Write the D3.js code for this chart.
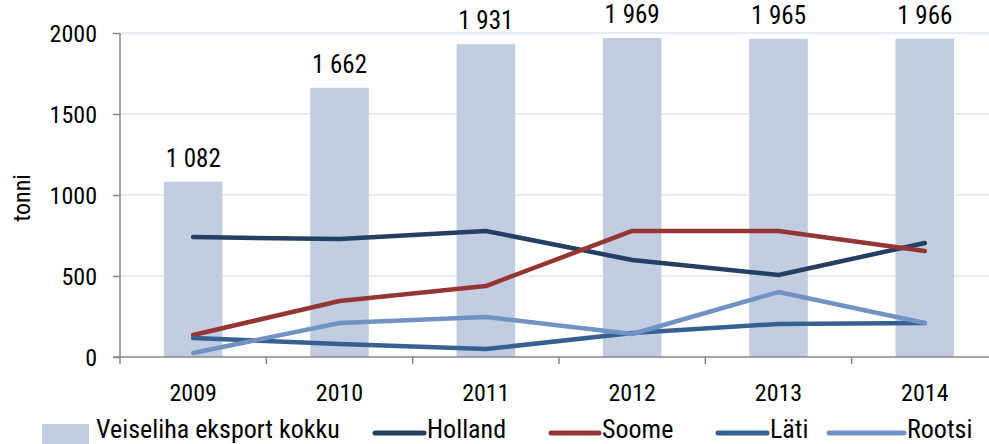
<!DOCTYPE html>
<html><head><meta charset="utf-8">
<script src="https://cdn.jsdelivr.net/npm/d3@7"></script>
<style>
body{margin:0;background:#fff;}
svg text{font-family:"Roboto Condensed","Liberation Sans Narrow","Roboto",sans-serif;fill:#000;}
</style></head><body>
<svg id="c" width="989" height="444"></svg>
<script>
const years = ["2009","2010","2011","2012","2013","2014"];
const total = [1082,1662,1931,1969,1965,1966];
const totalLabels = ["1 082","1 662","1 931","1 969","1 965","1 966"];
const holland = [740,728,778,599,506,704];
const soome = [136,346,438,778,778,654];
const lati = [117,80,49,148,204,210];
const rootsi = [25,210,247,142,401,210];
const yTicks = [0,500,1000,1500,2000];

const svg = d3.select("#c");
const x = d3.scaleBand().domain(years).range([120,998]).paddingInner(0.6).paddingOuter(0.3);
const xc = d3.scalePoint().domain(years).range([120+73.2,998-73.2]);
const y = d3.scaleLinear().domain([0,2000]).range([357,33]);

// grid
svg.append("g").selectAll("line").data(yTicks.filter(d=>d>0)).join("line")
  .attr("x1",120).attr("x2",989).attr("y1",d=>y(d)).attr("y2",d=>y(d))
  .attr("stroke","#dce6f2").attr("stroke-width",1.5);

// bars
svg.append("g").selectAll("rect").data(years).join("rect")
  .attr("x",d=>x(d)).attr("width",x.bandwidth())
  .attr("y",(d,i)=>y(total[i])).attr("height",(d,i)=>y(0)-y(total[i]))
  .attr("fill","#c2cde2");

// bar labels
svg.append("g").selectAll("text").data(years).join("text")
  .attr("x",d=>xc(d)).attr("y",(d,i)=>y(total[i])-15)
  .attr("text-anchor","middle").attr("font-size",25)
  .text((d,i)=>totalLabels[i]);

// axes
const yAxis = d3.axisLeft(y).tickValues(yTicks).tickFormat(d3.format("d")).tickSize(7).tickPadding(16);
const gy = svg.append("g").attr("transform","translate(120,0)").call(yAxis);
gy.select(".domain").attr("stroke","#868686").attr("stroke-width",1.5).attr("d","M0,33V357");
gy.selectAll(".tick line").attr("stroke","#868686").attr("stroke-width",1.5);
gy.selectAll(".tick text").attr("font-size",24).attr("font-family",null).attr("dy","0.36em");

const xAxis = d3.scaleLinear().domain([0,6]).range([120,998]);
const gx = svg.append("g").attr("transform","translate(0,357)");
gx.append("line").attr("x1",113).attr("x2",989).attr("y1",0).attr("y2",0).attr("stroke","#868686").attr("stroke-width",1.5);
gx.selectAll("line.t").data(d3.range(0,7)).join("line").attr("class","t")
  .attr("x1",d=>xAxis(d)).attr("x2",d=>xAxis(d)).attr("y1",0).attr("y2",7)
  .attr("stroke","#868686").attr("stroke-width",1.5);
gx.selectAll("text").data(years).join("text")
  .attr("x",d=>xc(d)).attr("y",44).attr("text-anchor","middle").attr("font-size",24).text(d=>d);

// y title
svg.append("text").attr("transform","translate(30,198) rotate(-90)")
  .attr("text-anchor","middle").attr("font-size",24).text("tonni");

// lines
const series = [
  {name:"Holland",vals:holland,color:"#243f61"},
  {name:"Soome",vals:soome,color:"#963634"},
  {name:"Läti",vals:lati,color:"#376092"},
  {name:"Rootsi",vals:rootsi,color:"#7093c4"}
];
const line = d3.line().x((d,i)=>xc(years[i])).y(d=>y(d));
svg.append("g").selectAll("path").data(series).join("path")
  .attr("d",s=>line(s.vals)).attr("fill","none").attr("stroke",s=>s.color)
  .attr("stroke-width",4.5).attr("stroke-linecap","round").attr("stroke-linejoin","round");

// legend
const lg = svg.append("g");
lg.append("rect").attr("x",42).attr("y",424).attr("width",47).attr("height",20).attr("fill","#c2cde2");
lg.append("text").attr("x",96).attr("y",438).attr("font-size",26).text("Veiseliha eksport kokku");
const lpos = [372,548,715,826];
const lend = [425,600,768,905];
series.forEach((s,i)=>{
  lg.append("line").attr("x1",lpos[i]+3).attr("x2",lend[i]-1).attr("y1",433).attr("y2",433)
    .attr("stroke",s.color).attr("stroke-width",5).attr("stroke-linecap","round");
  lg.append("text").attr("x",lend[i]+2).attr("y",438).attr("font-size",26).text(s.name);
});
</script></body></html>
